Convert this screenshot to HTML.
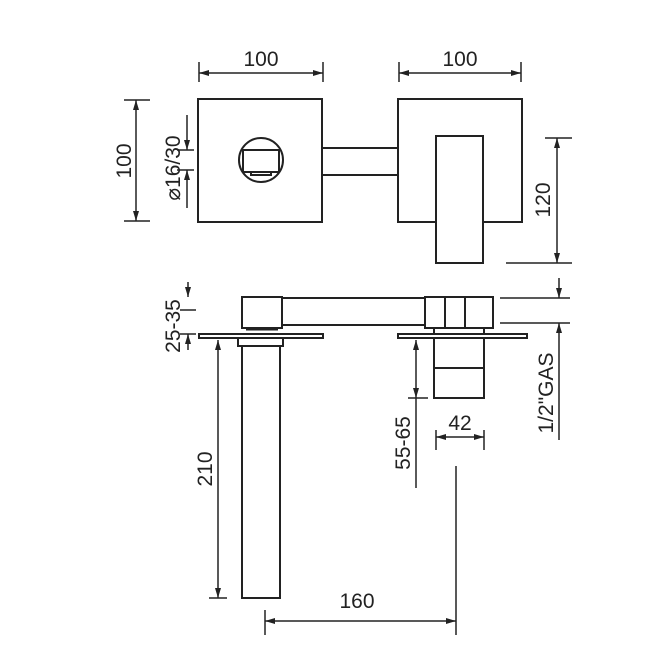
<!DOCTYPE html>
<html><head><meta charset="utf-8"><style>
html,body{margin:0;padding:0;background:#fff;width:671px;height:671px;overflow:hidden}
text{font-family:"Liberation Sans",sans-serif;font-size:21px;fill:#222}
</style></head><body>
<svg width="671" height="671" viewBox="0 0 671 671" xmlns="http://www.w3.org/2000/svg">
<defs>
<marker id="a" viewBox="0 0 10 6" refX="10" refY="3" markerWidth="12" markerHeight="6" orient="auto-start-reverse" markerUnits="userSpaceOnUse"><path d="M0,0 L10,3 L0,6z" fill="#222"/></marker>
</defs>
<g stroke="#222" stroke-width="2" fill="none">
<rect x="198" y="99" width="124" height="123"/>
<rect x="398" y="99" width="124" height="123"/>
<line x1="322" y1="148" x2="398" y2="148"/>
<line x1="322" y1="175" x2="398" y2="175"/>
<circle cx="261" cy="160" r="22"/>
<line x1="242" y1="150" x2="281" y2="150"/>
<line x1="243" y1="172" x2="279" y2="172"/>
<line x1="243" y1="150" x2="243" y2="172"/>
<line x1="279" y1="150" x2="279" y2="172"/>
<rect x="251" y="172" width="20" height="3"/>
<rect x="436" y="136" width="47" height="127" fill="#fff"/>
<line x1="199" y1="73" x2="323" y2="73" stroke-width="1.5" marker-start="url(#a)" marker-end="url(#a)"/>
<line x1="199" y1="62" x2="199" y2="82" stroke-width="1.5"/>
<line x1="323" y1="62" x2="323" y2="82" stroke-width="1.5"/>
<line x1="399" y1="73" x2="521" y2="73" stroke-width="1.5" marker-start="url(#a)" marker-end="url(#a)"/>
<line x1="399" y1="62" x2="399" y2="82" stroke-width="1.5"/>
<line x1="521" y1="62" x2="521" y2="82" stroke-width="1.5"/>
<line x1="136" y1="100" x2="136" y2="221" stroke-width="1.5" marker-start="url(#a)" marker-end="url(#a)"/>
<line x1="124" y1="100" x2="150" y2="100" stroke-width="1.5"/>
<line x1="124" y1="221" x2="150" y2="221" stroke-width="1.5"/>
<line x1="187" y1="115" x2="187" y2="150" stroke-width="1.5" marker-end="url(#a)"/>
<line x1="187" y1="208" x2="187" y2="170" stroke-width="1.5" marker-end="url(#a)"/>
<line x1="177" y1="150" x2="194" y2="150" stroke-width="1.5"/>
<line x1="177" y1="170" x2="194" y2="170" stroke-width="1.5"/>
<line x1="557" y1="138" x2="557" y2="263" stroke-width="1.5" marker-start="url(#a)" marker-end="url(#a)"/>
<line x1="545" y1="138" x2="572" y2="138" stroke-width="1.5"/>
<line x1="506" y1="263" x2="572" y2="263" stroke-width="1.5"/>
<line x1="282" y1="298" x2="425" y2="298"/>
<line x1="282" y1="325" x2="425" y2="325"/>
<rect x="242" y="297" width="40" height="31"/>
<rect x="425" y="297" width="68" height="31"/>
<line x1="445" y1="297" x2="445" y2="328"/>
<line x1="465" y1="297" x2="465" y2="328"/>
<rect x="199" y="334" width="124" height="4"/>
<rect x="398" y="334" width="129" height="4"/>
<line x1="246" y1="329" x2="278" y2="329" stroke-width="3"/>
<rect x="238" y="338" width="45" height="8"/>
<rect x="242" y="346" width="38" height="252"/>
<line x1="434" y1="328" x2="434" y2="334"/><line x1="484" y1="328" x2="484" y2="334"/>
<rect x="434" y="338" width="50" height="60"/>
<line x1="434" y1="368" x2="484" y2="368"/>
<line x1="188" y1="282" x2="188" y2="297" stroke-width="1.5" marker-end="url(#a)"/>
<line x1="188" y1="350" x2="188" y2="334" stroke-width="1.5" marker-end="url(#a)"/>
<line x1="180" y1="310" x2="196" y2="310" stroke-width="1.5"/>
<line x1="180" y1="334" x2="196" y2="334" stroke-width="1.5"/>
<line x1="218" y1="340" x2="218" y2="598" stroke-width="1.5" marker-start="url(#a)" marker-end="url(#a)"/>
<line x1="209" y1="598" x2="227" y2="598" stroke-width="1.5"/>
<line x1="416" y1="340" x2="416" y2="398" stroke-width="1.5" marker-start="url(#a)" marker-end="url(#a)"/>
<line x1="408" y1="398" x2="428" y2="398" stroke-width="1.5"/>
<line x1="416" y1="398" x2="416" y2="488" stroke-width="1.5"/>
<line x1="436" y1="437" x2="484" y2="437" stroke-width="1.5" marker-start="url(#a)" marker-end="url(#a)"/>
<line x1="436" y1="430" x2="436" y2="450" stroke-width="1.5"/>
<line x1="484" y1="430" x2="484" y2="450" stroke-width="1.5"/>
<line x1="265" y1="621" x2="456" y2="621" stroke-width="1.5" marker-start="url(#a)" marker-end="url(#a)"/>
<line x1="265" y1="610" x2="265" y2="635" stroke-width="1.5"/>
<line x1="456" y1="466" x2="456" y2="635" stroke-width="1.5"/>
<line x1="500" y1="298" x2="570" y2="298" stroke-width="1.5"/>
<line x1="500" y1="323" x2="570" y2="323" stroke-width="1.5"/>
<line x1="559" y1="278" x2="559" y2="298" stroke-width="1.5" marker-end="url(#a)"/>
<line x1="559" y1="345" x2="559" y2="323" stroke-width="1.5" marker-end="url(#a)"/>
<line x1="559" y1="345" x2="559" y2="440" stroke-width="1.5"/>
</g>
<text x="261" y="66" text-anchor="middle">100</text>
<text x="460" y="66" text-anchor="middle">100</text>
<text transform="translate(131,161) rotate(-90)" text-anchor="middle">100</text>
<text transform="translate(180,168) rotate(-90)" text-anchor="middle">⌀16/30</text>
<text transform="translate(550,200) rotate(-90)" text-anchor="middle">120</text>
<text transform="translate(180,326) rotate(-90)" text-anchor="middle">25-35</text>
<text transform="translate(212,469) rotate(-90)" text-anchor="middle">210</text>
<text transform="translate(410,443) rotate(-90)" text-anchor="middle">55-65</text>
<text x="460" y="430" text-anchor="middle">42</text>
<text x="357" y="608" text-anchor="middle">160</text>
<text transform="translate(553,393) rotate(-90)" text-anchor="middle">1/2"GAS</text>
</svg>
</body></html>
